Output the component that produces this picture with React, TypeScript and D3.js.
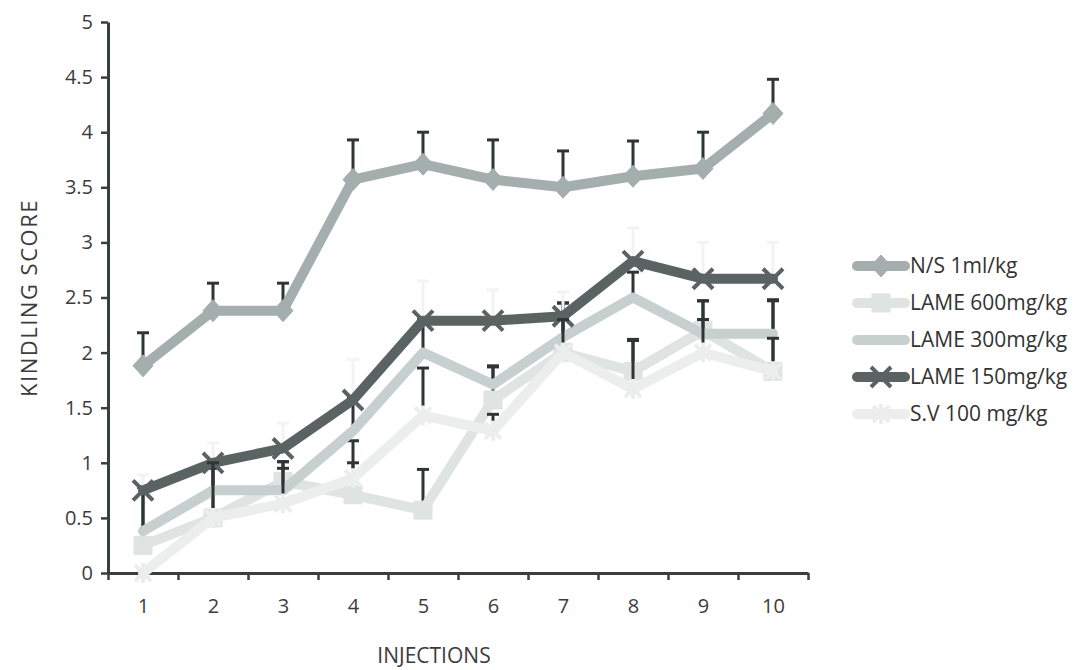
import { useEffect, useRef } from "react";
import * as d3 from "d3";

// x categories (injection number) and y tick labels
const injections = [1, 2, 3, 4, 5, 6, 7, 8, 9, 10];
const yTicks = [0, 0.5, 1, 1.5, 2, 2.5, 3, 3.5, 4, 4.5, 5];

// mean kindling score per group, and the upper error (SEM)
const nsValues = [1.88, 2.38, 2.38, 3.57, 3.71, 3.57, 3.5, 3.6, 3.67, 4.17];
const nsErrors = [0.3, 0.25, 0.25, 0.36, 0.29, 0.36, 0.33, 0.32, 0.33, 0.31];

const lame600Values = [0.25, 0.5, 0.83, 0.71, 0.57, 1.57, 2.0, 1.83, 2.2, 1.83];
const lame600Errors = [0.53, 0.5, 0.18, 0.49, 0.37, 0.3, 0.45, 0.28, 0.27, 0.65];

const lame300Values = [0.38, 0.75, 0.75, 1.29, 2.0, 1.71, 2.14, 2.5, 2.17, 2.17];
const lame300Errors = [0.4, 0.2, 0.2, 0.3, 0.3, 0.17, 0.31, 0.23, 0.3, 0.3];

const lame150Values = [0.75, 1.0, 1.13, 1.57, 2.29, 2.29, 2.33, 2.83, 2.67, 2.67];
const lame150Errors = [0.14, 0.18, 0.23, 0.37, 0.36, 0.28, 0.22, 0.3, 0.33, 0.33];

const svValues = [0.0, 0.5, 0.63, 0.86, 1.43, 1.29, 2.0, 1.67, 2.0, 1.83];
const svErrors = [0, 0.5, 0.38, 0.14, 0.43, 0.15, 0.3, 0.45, 0.3, 0.3];

const seriesNames = ["N/S 1ml/kg", "LAME 600mg/kg", "LAME 300mg/kg", "LAME 150mg/kg", "S.V 100 mg/kg"];

const FONT = "'Open Sans', sans-serif";

type Marker = "diamond" | "square" | "none" | "x" | "star";

const markerPath: Record<Marker, string> = {
  diamond: "M0,-11L10,0L0,11L-10,0Z",
  square: "M-9,-9H9V9H-9Z",
  none: "",
  x: "M-10,-10L10,10M-10,10L10,-10",
  star: "M-8,-8L8,8M-8,8L8,-8M0,-10L0,10",
};

export default function App() {
  const ref = useRef<SVGSVGElement>(null);

  useEffect(() => {
    const svg = d3.select(ref.current);
    svg.selectAll("*").remove();

    const series = [
      { name: seriesNames[0], values: nsValues, errors: nsErrors, color: "#a4afad", marker: "diamond" as Marker, err: "#2f3434" },
      { name: seriesNames[1], values: lame600Values, errors: lame600Errors, color: "#dfe3e2", marker: "square" as Marker, err: "#2f3434" },
      { name: seriesNames[2], values: lame300Values, errors: lame300Errors, color: "#c8d0cf", marker: "none" as Marker, err: "#2f3434" },
      { name: seriesNames[3], values: lame150Values, errors: lame150Errors, color: "#5b6362", marker: "x" as Marker, err: "#f2f3f3" },
      { name: seriesNames[4], values: svValues, errors: svErrors, color: "#eceeed", marker: "star" as Marker, err: "#2f3434" },
    ];

    const x = d3.scaleLinear().domain([0.5, 10.5]).range([108, 808]);
    const y = d3.scaleLinear().domain([0, 5]).range([573, 22]);

    // y axis
    const yAxis = svg
      .append("g")
      .attr("transform", "translate(108,0)")
      .call(d3.axisLeft(y).tickValues(yTicks).tickSize(7).tickSizeOuter(0).tickPadding(8).tickFormat((d) => String(d)));
    yAxis.select(".domain").attr("stroke", "#3a3f3e").attr("stroke-width", 3);
    yAxis.selectAll(".tick line").attr("stroke", "#3a3f3e").attr("stroke-width", 2.5);
    yAxis.selectAll("text").attr("font-family", FONT).attr("font-size", 20).attr("fill", "#3c3c3c");

    // x axis: tick marks between categories, labels centred on them
    const boundaries = [0.5, ...injections.map((d) => d + 0.5)];
    const xAxis = svg
      .append("g")
      .attr("transform", "translate(0,573)")
      .call(d3.axisBottom(x).tickValues(boundaries).tickSize(7).tickSizeOuter(0).tickFormat(() => ""));
    xAxis.select(".domain").attr("stroke", "#3a3f3e").attr("stroke-width", 3);
    xAxis.selectAll(".tick line").attr("stroke", "#3a3f3e").attr("stroke-width", 2.5);

    const xLabels = svg
      .append("g")
      .attr("transform", "translate(0,573)")
      .call(d3.axisBottom(x).tickValues(injections).tickSize(0).tickPadding(26).tickFormat((d) => String(d)));
    xLabels.select(".domain").remove();
    xLabels.selectAll("text").attr("font-family", FONT).attr("font-size", 20).attr("fill", "#3c3c3c");

    // axis titles
    svg
      .append("text")
      .attr("transform", "translate(37,298) rotate(-90)")
      .attr("text-anchor", "middle")
      .attr("font-family", FONT)
      .attr("font-size", 22)
      .attr("letter-spacing", 1.5)
      .attr("fill", "#3c3c3c")
      .text("KINDLING  SCORE");

    svg
      .append("text")
      .attr("x", 434)
      .attr("y", 663)
      .attr("text-anchor", "middle")
      .attr("font-family", FONT)
      .attr("font-size", 21)
      .attr("fill", "#3c3c3c")
      .text("INJECTIONS");

    const line = d3
      .line<number>()
      .x((_, i) => x(injections[i]))
      .y((d) => y(d));

    series.forEach((s) => {
      const g = svg.append("g");

      // error bars (upper only)
      s.values.forEach((v, i) => {
        if (!s.errors[i]) return;
        const cx = x(injections[i]);
        const top = y(v + s.errors[i]);
        g.append("line")
          .attr("x1", cx).attr("x2", cx)
          .attr("y1", y(v)).attr("y2", top)
          .attr("stroke", s.err).attr("stroke-width", 3);
        g.append("line")
          .attr("x1", cx - 6).attr("x2", cx + 6)
          .attr("y1", top).attr("y2", top)
          .attr("stroke", s.err).attr("stroke-width", 3);
      });

      g.append("path")
        .attr("d", line(s.values))
        .attr("fill", "none")
        .attr("stroke", s.color)
        .attr("stroke-width", 10)
        .attr("stroke-linejoin", "round")
        .attr("stroke-linecap", "round");

      if (s.marker !== "none") {
        const stroked = s.marker === "x" || s.marker === "star";
        g.selectAll(".m")
          .data(s.values)
          .enter()
          .append("path")
          .attr("transform", (d, i) => `translate(${x(injections[i])},${y(d)})`)
          .attr("d", markerPath[s.marker])
          .attr("fill", stroked ? "none" : s.color)
          .attr("stroke", s.color)
          .attr("stroke-width", stroked ? 4 : 1);
      }
    });

    // legend
    const legend = svg.append("g").attr("transform", "translate(853,266)");
    series.forEach((s, i) => {
      const row = legend.append("g").attr("transform", `translate(0,${i * 37})`);
      row.append("line")
        .attr("x1", 4).attr("x2", 52)
        .attr("stroke", s.color).attr("stroke-width", 10).attr("stroke-linecap", "round");
      if (s.marker !== "none") {
        const stroked = s.marker === "x" || s.marker === "star";
        row.append("path")
          .attr("transform", "translate(28,0)")
          .attr("d", markerPath[s.marker])
          .attr("fill", stroked ? "none" : s.color)
          .attr("stroke", s.color)
          .attr("stroke-width", stroked ? 4 : 1);
      }
      row.append("text")
        .attr("x", 57)
        .attr("y", 7)
        .attr("font-family", FONT)
        .attr("font-size", 21)
        .attr("fill", "#333")
        .text(s.name);
    });
  }, []);

  return (
    <svg
      ref={ref}
      width={1074}
      height={670}
      style={{ position: "absolute", left: 0, top: 0, background: "#fff" }}
    />
  );
}
